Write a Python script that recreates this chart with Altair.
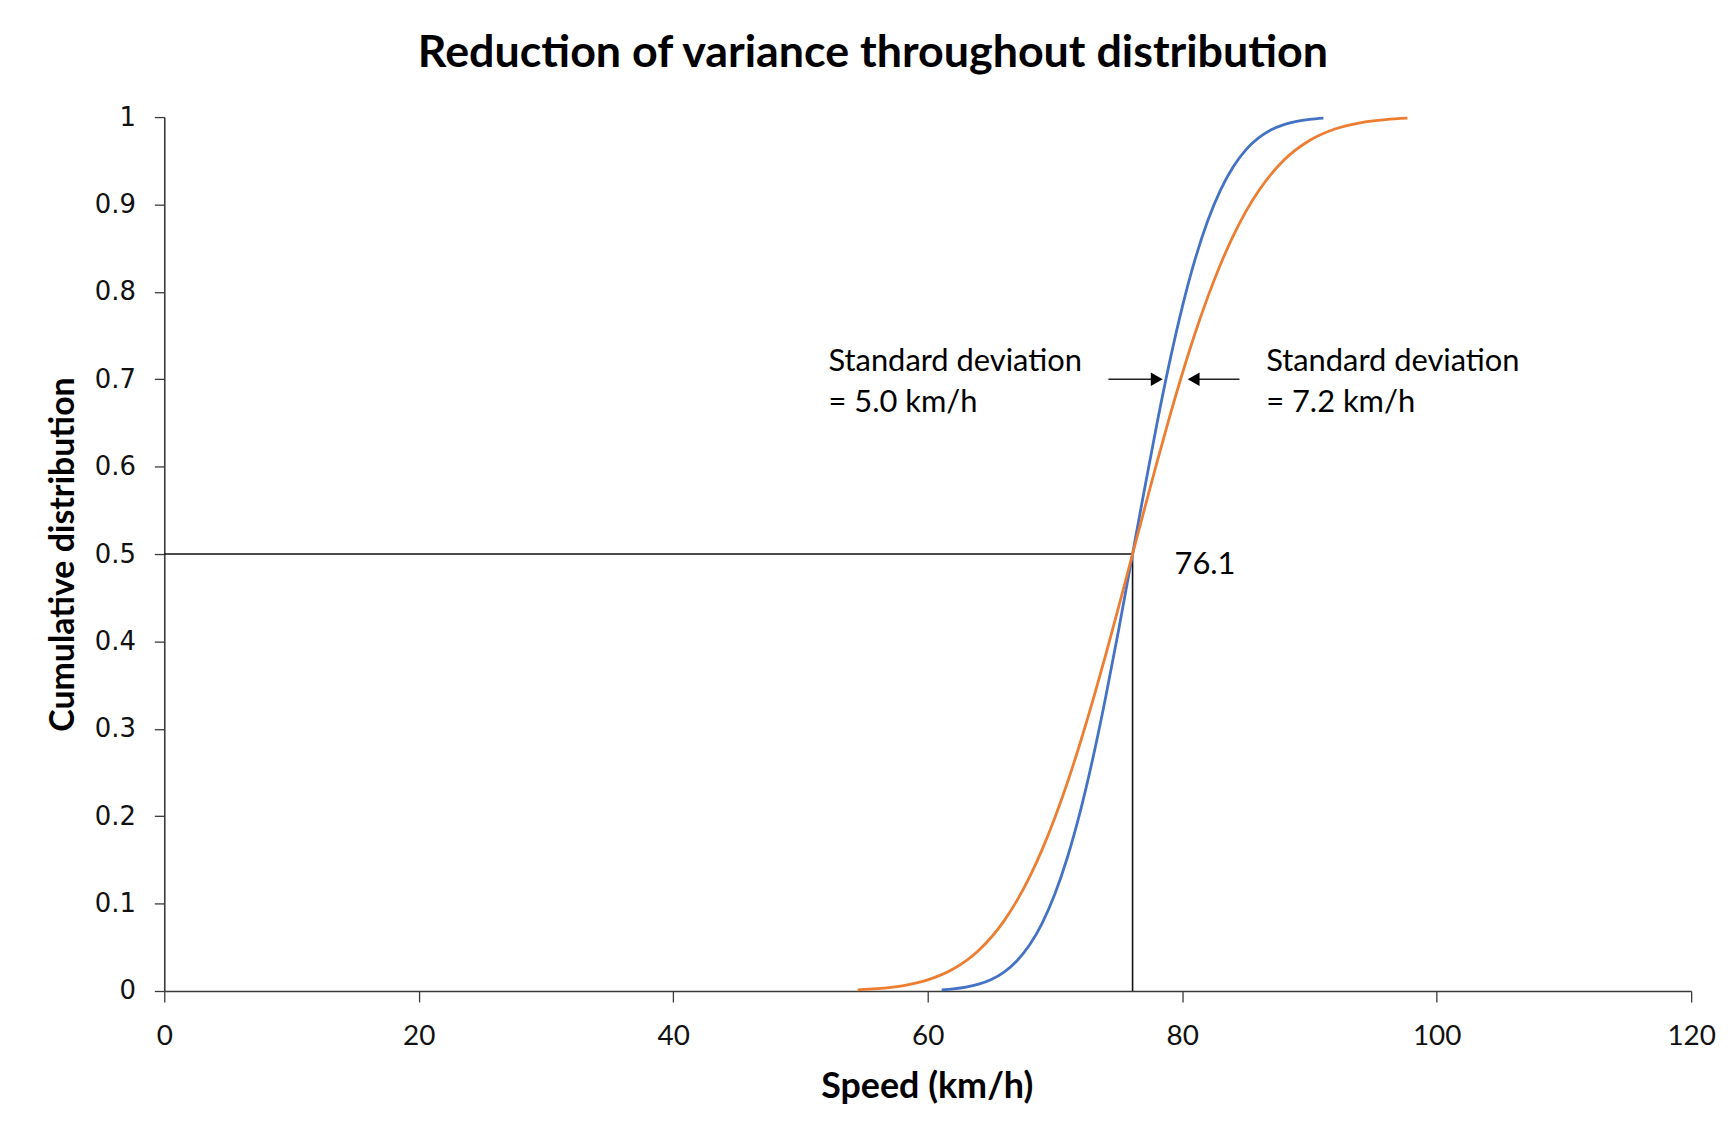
import altair as alt
import pandas as pd

# ---------------- data ----------------
TITLE = "Reduction of variance throughout distribution"
X_TITLE = "Speed (km/h)"
Y_TITLE = "Cumulative distribution"

series_names = ["SD 5.0 km/h", "SD 7.2 km/h"]
series_colors = ["#4472C4", "#ED7D31"]

blue_speed = [61.1, 62, 63, 64, 65, 66, 67, 68, 69, 70, 71, 72, 73, 74, 75, 76.1,
              77, 78, 79, 80, 81, 82, 83, 84, 85, 86, 87, 88, 89, 90, 91.1]
blue_cdf = [0.0013, 0.0024, 0.0044, 0.0078, 0.0132, 0.0217, 0.0344, 0.0526, 0.0778,
            0.1112, 0.1539, 0.2061, 0.2676, 0.3372, 0.4129, 0.5,
            0.5714, 0.6480, 0.7190, 0.7823, 0.8365, 0.8810, 0.9162, 0.9429, 0.9625,
            0.9761, 0.9854, 0.9913, 0.9951, 0.9973, 0.9987]

orange_speed = [54.5, 56, 58, 60, 62, 64, 66, 67, 68, 69, 70, 71, 72, 73, 74, 75, 76.1,
                77, 78, 79, 80, 81, 82, 83, 84, 85, 86, 88, 90, 92, 94, 96, 97.7]
orange_cdf = [0.0013, 0.0026, 0.0060, 0.0127, 0.0251, 0.0464, 0.0803, 0.1031, 0.1303,
              0.1621, 0.1985, 0.2394, 0.2846, 0.3333, 0.3852, 0.4392, 0.5,
              0.5497, 0.6041, 0.6565, 0.7060, 0.7520, 0.7937, 0.8310, 0.8637, 0.8918,
              0.9154, 0.9508, 0.9732, 0.9864, 0.9935, 0.9971, 0.9987]

median_speed = 76.1
median_cdf = 0.5
median_label = "76.1"
median_label_pos = [79.4, 0.487]

x_ticks = [0, 20, 40, 60, 80, 100, 120]
y_ticks = [0, 0.1, 0.2, 0.3, 0.4, 0.5, 0.6, 0.7, 0.8, 0.9, 1]

ann_left_lines = ["Standard deviation", "= 5.0 km/h"]
ann_right_lines = ["Standard deviation", "= 7.2 km/h"]
ann_left_x = 52.2
ann_right_x = 86.6
ann_line_y = [0.720, 0.673]

arrow_y = 0.70
arrow_from = [74.2, 84.5]
arrow_to = [78.0, 80.9]
arrow_shapes = ["triangle-right", "triangle-left"]
arrow_head_offset = [-6, 6]

# ---------------- tables ----------------
curves = pd.DataFrame({
    "x": blue_speed + orange_speed,
    "y": blue_cdf + orange_cdf,
    "series": [series_names[0]] * len(blue_speed) + [series_names[1]] * len(orange_speed),
})
hline = pd.DataFrame({"x": [0], "x2": [median_speed], "y": [median_cdf]})
vline = pd.DataFrame({"x": [median_speed], "y": [0], "y2": [median_cdf]})
texts = pd.DataFrame({
    "x": [ann_left_x] * 2 + [ann_right_x] * 2 + [median_label_pos[0]],
    "y": ann_line_y + ann_line_y + [median_label_pos[1]],
    "t": ann_left_lines + ann_right_lines + [median_label],
})
arrows = pd.DataFrame({
    "x": arrow_from, "x2": arrow_to, "y": [arrow_y] * 2,
    "shape": arrow_shapes, "off": arrow_head_offset,
})

FONT = "Lato"
AX = "#3a3a3a"

x_axis = alt.Axis(values=x_ticks, grid=False, domainColor=AX, domainWidth=1.6,
                  tickColor=AX, tickWidth=1.3, tickSize=11,
                  labelFont=FONT, labelFontSize=28, labelColor="#111",
                  labelPadding=21, labelBaseline="top", labelFlush=False,
                  labelOverlap=False,
                  title=X_TITLE, titleFont=FONT, titleFontSize=36,
                  titleFontWeight="bold", titleColor="#000",
                  titleX=766, titleY=96, titleBaseline="middle", titleAlign="center")
y_axis = alt.Axis(values=y_ticks, grid=False, domainColor=AX, domainWidth=1.6,
                  tickColor=AX, tickWidth=1.3, tickSize=10,
                  labelFont="DejaVu Sans", labelFontSize=26, labelColor="#111",
                  labelPadding=19, labelOverlap=False, format="~g",
                  title=Y_TITLE, titleFont=FONT, titleFontSize=34,
                  titleFontWeight="bold", titleColor="#000", titleAngle=270,
                  titleX=-101, titleY=439, titleBaseline="middle", titleAlign="center")

xs = alt.Scale(domain=[0, 120], nice=False, zero=False)
ys = alt.Scale(domain=[0, 1], nice=False)
X = alt.X("x:Q", scale=xs, axis=x_axis)
Y = alt.Y("y:Q", scale=ys, axis=y_axis)

h_rule = alt.Chart(hline).mark_rule(color="#111", strokeWidth=1.4).encode(x=X, x2="x2:Q", y=Y)
v_rule = alt.Chart(vline).mark_rule(color="#111", strokeWidth=1.6).encode(x=X, y=Y, y2="y2:Q")

lines = alt.Chart(curves).mark_line(strokeWidth=2.8, interpolate="monotone").encode(
    x=X, y=Y,
    color=alt.Color("series:N", scale=alt.Scale(domain=series_names, range=series_colors),
                    legend=None),
)

labels = alt.Chart(texts).mark_text(align="left", baseline="middle", font=FONT,
                                    fontSize=31, color="#000").encode(x=X, y=Y, text="t:N")

shafts = alt.Chart(arrows).mark_rule(color="#222", strokeWidth=1.4).encode(x=X, x2="x2:Q", y=Y)
heads = alt.Chart(arrows).mark_point(filled=True, color="#000", size=190, opacity=1).encode(
    x=alt.X("x2:Q", scale=xs, axis=x_axis), y=Y,
    shape=alt.Shape("shape:N", scale=None),
    xOffset=alt.XOffset("off:Q", scale=None),
)

chart = alt.layer(h_rule, v_rule, lines, shafts, heads, labels).properties(
    width=1534, height=878,
    title=alt.TitleParams(TITLE, font=FONT, fontSize=45, fontWeight="bold", color="#000",
                          anchor="middle", frame="group", dx=-55, offset=-8,
                          baseline="alphabetic"),
    autosize=alt.AutoSizeParams(type="none"),
    padding={"left": 157, "top": 107, "right": 34, "bottom": 125},
).configure_view(stroke=None)

chart.save("out.html", embed_options={"renderer": "svg", "actions": False})
